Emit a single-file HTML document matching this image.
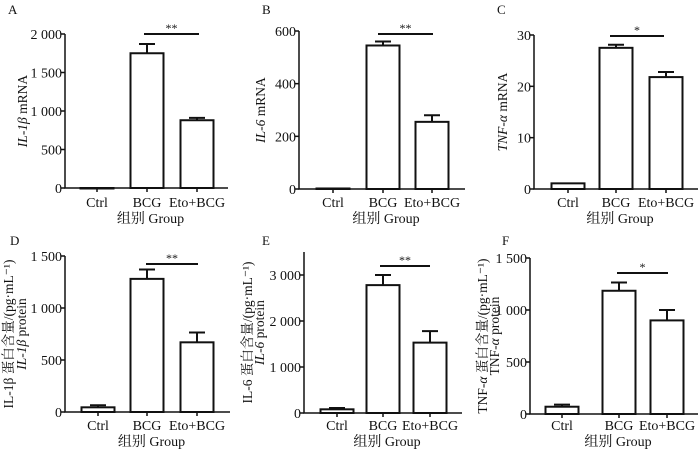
<!DOCTYPE html>
<html><head><meta charset="utf-8"><style>
body{margin:0;background:#fff;}
svg, svg text{font-family:"Liberation Serif","Noto Serif CJK SC","Noto Sans CJK SC",serif;}
text{fill:#111;}
</style></head><body>
<svg id="fig" width="700" height="451" viewBox="0 0 700 451" xmlns="http://www.w3.org/2000/svg" font-family="'Liberation Serif','Noto Serif CJK SC',serif"></svg>
<script>
const categories = ["Ctrl","BCG","Eto+BCG"];
const valuesA = [0, 1750, 880];   const errA = [0, 120, 30];
const valuesB = [2, 545, 255];    const errB = [0, 15, 25];
const valuesC = [1.1, 27.5, 21.8]; const errC = [0, 0.6, 1.0];
const valuesD = [45, 1280, 670];  const errD = [20, 90, 95];
const valuesE = [80, 2780, 1530]; const errE = [30, 220, 250];
const valuesF = [70, 1185, 900];  const errF = [20, 80, 100];
const ticksA = [0,500,1000,1500,2000]; const tickLabelsA = ["0","500","1 000","1 500","2 000"];
const ticksB = [0,200,400,600]; const tickLabelsB = ["0","200","400","600"];
const ticksC = [0,10,20,30]; const tickLabelsC = ["0","10","20","30"];
const ticksD = [0,500,1000,1500]; const tickLabelsD = ["0","500","1 000","1 500"];
const ticksE = [0,1000,2000,3000]; const tickLabelsE = ["0","1 000","2 000","3 000"];
const ticksF = [0,500,1000,1500]; const tickLabelsF = ["0","500","1 000","1 500"];
const sigLabels = ["**","**","*","**","**","*"];

const NS="http://www.w3.org/2000/svg";
const FF="'Liberation Serif','Noto Serif CJK SC',serif";
const svg=document.getElementById('fig');
function mk(tag,attrs,parent){const e=document.createElementNS(NS,tag);for(const k in attrs)e.setAttribute(k,attrs[k]);if(tag==='text')e.setAttribute('font-family',FF);(parent||svg).appendChild(e);return e;}

const panels=[
 {id:'a',letter:'A',lx:8,ly:14,ax:65,y0:188,yTopPx:34,yTopVal:2000,axTop:34,xEnd:228,cx:[97,147,197],vals:valuesA,err:errA,ticks:ticksA,tl:tickLabelsA,sig:[144,199,34],ytitle:[[['IL-1β',1],[' mRNA',0]]],ytx:[27],tly:207,tty:223},
 {id:'b',letter:'B',lx:262,ly:14,ax:299,y0:189,yTopPx:31,yTopVal:600,axTop:31,xEnd:465,cx:[333,383,432],vals:valuesB,err:errB,ticks:ticksB,tl:tickLabelsB,sig:[378,433,34],ytitle:[[['IL-6',1],[' mRNA',0]]],ytx:[265],tly:207,tty:223},
 {id:'c',letter:'C',lx:497,ly:14,ax:534,y0:189,yTopPx:35,yTopVal:30,axTop:35,xEnd:698,cx:[568,616,666],vals:valuesC,err:errC,ticks:ticksC,tl:tickLabelsC,sig:[610,664,36],ytitle:[[['TNF-α',1],[' mRNA',0]]],ytx:[507],tly:207,tty:223},
 {id:'d',letter:'D',lx:10,ly:245,ax:65,y0:412,yTopPx:256,yTopVal:1500,axTop:256,xEnd:230,cx:[98,147,197],vals:valuesD,err:errD,ticks:ticksD,tl:tickLabelsD,sig:[146,198,264],ytitle:[[['IL-1β 蛋白含量/(pg·mL⁻¹)',0]],[['IL-1β',1],[' protein',0]]],ytx:[13,26],tly:430,tty:446},
 {id:'e',letter:'E',lx:262,ly:245,ax:304,y0:413,yTopPx:275,yTopVal:3000,axTop:252,xEnd:462,cx:[337,383,430],vals:valuesE,err:errE,ticks:ticksE,tl:tickLabelsE,sig:[380,430,266],ytitle:[[['IL-6 蛋白含量/(pg·mL⁻¹)',0]],[['IL-6',1],[' protein',0]]],ytx:[252,264],tly:430,tty:446},
 {id:'f',letter:'F',lx:502,ly:245,ax:530,y0:414,yTopPx:258,yTopVal:1500,axTop:258,xEnd:698,cx:[562,619,667],vals:valuesF,err:errF,ticks:ticksF,tl:tickLabelsF,sig:[617,668,273],ytitle:[[['TNF-',0],['α',1],[' 蛋白含量/(pg·mL⁻¹)',0]],[['TNF-',0],['α',1],[' protein',0]]],ytx:[487,499],tly:430,tty:446}
];

panels.forEach((p,pi)=>{
  const g=mk('g',{});
  
  
  const y=v=>p.y0-(v/p.yTopVal)*(p.y0-p.yTopPx);
  const L=mk('text',{x:p.lx,y:p.ly,'font-size':13},g);L.textContent=p.letter;
  
  const bw=33;
  p.vals.forEach((v,i)=>{
    const top=y(v);
    if(p.err[i]>0){
      const e=mk('path',{d:`M${p.cx[i]} ${top} V${y(v+p.err[i])} M${p.cx[i]-8} ${y(v+p.err[i])} H${p.cx[i]+8}`,stroke:'#111','stroke-width':2,fill:'none'},g);
      
    }
    const r=mk('rect',{x:p.cx[i]-bw/2,y:top,width:bw,height:Math.max(p.y0-top,0.5),fill:'#fff',stroke:'#111','stroke-width':2},g);
    
    
    const t=mk('text',{x:p.cx[i],y:p.tly,'font-size':14,'text-anchor':'middle'},g);t.textContent=categories[i];
    
  });
  const ax=mk('path',{d:`M${p.ax} ${p.axTop} V${p.y0} H${p.xEnd}`,stroke:'#111','stroke-width':1.5,fill:'none'},g);
  
  p.ticks.forEach((tv,i)=>{
    mk('line',{x1:p.ax-4,x2:p.ax,y1:y(tv),y2:y(tv),stroke:'#111','stroke-width':1.5},g);
    const t=mk('text',{x:p.ax-3,y:y(tv)+5,'font-size':14,'text-anchor':'end'},g);t.textContent=p.tl[i];
    
  });
  p.cx.forEach(c=>mk('line',{x1:c,x2:c,y1:p.y0,y2:p.y0+4,stroke:'#111','stroke-width':1.5},g));
  const xt=mk('text',{x:(p.ax+p.xEnd)/2+4,y:p.tty,'font-size':14,'text-anchor':'middle'},g);xt.textContent='组别 Group';
  
  const midY=(p.axTop+p.y0)/2;
  p.ytitle.forEach((parts,k)=>{
    const x=p.ytx[k];
    const t=mk('text',{x:x,y:midY,'font-size':13.5,'text-anchor':'middle',transform:`rotate(-90 ${x} ${midY})`},g);
    parts.forEach(pt=>{const ts=mk('tspan',{'font-style':pt[1]?'italic':'normal'},t);ts.textContent=pt[0];});
    
  });
  const s=mk('line',{x1:p.sig[0],x2:p.sig[1],y1:p.sig[2],y2:p.sig[2],stroke:'#111','stroke-width':2},g);
  
  const st=mk('text',{x:(p.sig[0]+p.sig[1])/2,y:p.sig[2]-2,'font-size':12,'text-anchor':'middle'},g);st.textContent=sigLabels[pi];
  
});
</script>
</body></html>
